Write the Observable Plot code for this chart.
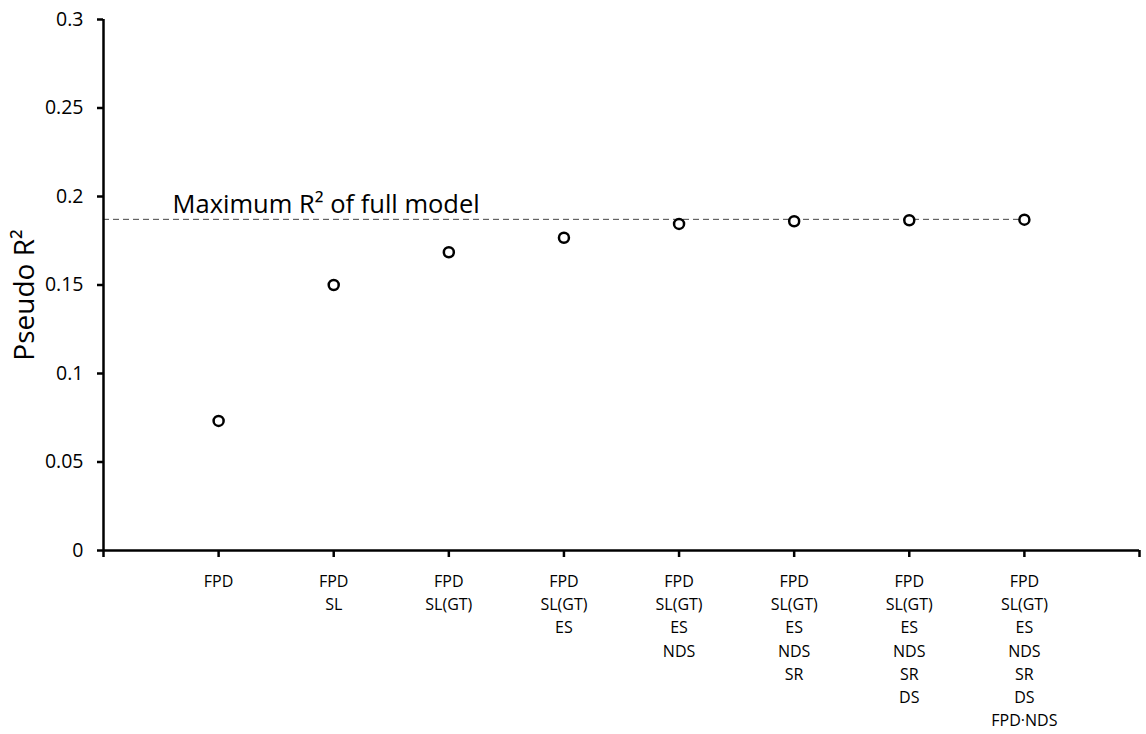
<!DOCTYPE html>
<html>
<head>
<meta charset="utf-8">
<script src="https://cdn.jsdelivr.net/npm/d3@7"></script>
<script src="https://cdn.jsdelivr.net/npm/@observablehq/plot@0.6"></script>
<style>
  html, body { margin: 0; padding: 0; background: #fff; }
  #chart svg { display: block; }
</style>
</head>
<body>
<div id="chart"></div>
<script>
// Model labels (one entry per model, lines separated by \n)
const modelLabels = [
  "FPD",
  "FPD\nSL",
  "FPD\nSL(GT)",
  "FPD\nSL(GT)\nES",
  "FPD\nSL(GT)\nES\nNDS",
  "FPD\nSL(GT)\nES\nNDS\nSR",
  "FPD\nSL(GT)\nES\nNDS\nSR\nDS",
  "FPD\nSL(GT)\nES\nNDS\nSR\nDS\nFPD·NDS"
];
// Category positions
const modelIndex = [1, 2, 3, 4, 5, 6, 7, 8];
// Pseudo R² values
const pseudoR2 = [0.0732, 0.150, 0.1685, 0.1767, 0.1845, 0.1860, 0.1866, 0.1869];
// Maximum R² of full model
const maxR2 = 0.1871;
const maxLabel = "Maximum R² of full model";
// Axis ticks
const yTicks = [0, 0.05, 0.1, 0.15, 0.2, 0.25, 0.3];
const yTickLabels = ["0", "0.05", "0.1", "0.15", "0.2", "0.25", "0.3"];
const xDomain = [0, 9];
const xTicks = [0, 1, 2, 3, 4, 5, 6, 7, 8, 9];

const data = modelIndex.map((x, i) => ({x, y: pseudoR2[i], label: modelLabels[i]}));

const font = "'Open Sans', 'Noto Sans', sans-serif";

const chart = Plot.plot({
  width: 1146,
  height: 734,
  marginLeft: 103,
  marginRight: 7,
  marginTop: 19,
  marginBottom: 184,
  style: {fontFamily: font, color: "#000", background: "#fff"},
  x: {domain: xDomain},
  y: {domain: [0, 0.3]},
  marks: [
    // dashed reference line
    Plot.ruleY([maxR2], {x1: xDomain[0], x2: modelIndex[modelIndex.length - 1], stroke: "#444", strokeWidth: 1, strokeDasharray: "6,4"}),
    Plot.text([maxLabel], {x: 0.6, y: maxR2, text: d => d, textAnchor: "start", lineAnchor: "bottom", dy: -6.5, fontSize: 25.5, fill: "#000"}),
    // axes
    Plot.axisY({ticks: yTicks, tickFormat: (d, i) => yTickLabels[yTicks.indexOf(d)], tickSize: 6, tickPadding: 14, strokeWidth: 2.5, fontSize: 19.5, label: null}),
    Plot.axisX({ticks: xTicks, tickFormat: d => (d >= 1 && d <= modelLabels.length) ? modelLabels[d - 1] : "", tickSize: 7, tickPadding: 13, strokeWidth: 2.5, fontSize: 16, lineHeight: 1.45, label: null}),
    Plot.ruleX([xDomain[0]], {stroke: "#000", strokeWidth: 2.5}),
    Plot.ruleY([0], {stroke: "#000", strokeWidth: 2.5}),
    // y label
    Plot.text(["Pseudo R²"], {frameAnchor: "left", text: d => d, rotate: -90, dx: -78, dy: 10, fontSize: 28, textAnchor: "middle", lineAnchor: "middle", fill: "#000"}),
    // points
    Plot.dot(data, {x: "x", y: "y", r: 5, stroke: "#000", strokeWidth: 2.5, fill: "#fff"})
  ]
});

document.getElementById("chart").appendChild(chart);
</script>
</body>
</html>
